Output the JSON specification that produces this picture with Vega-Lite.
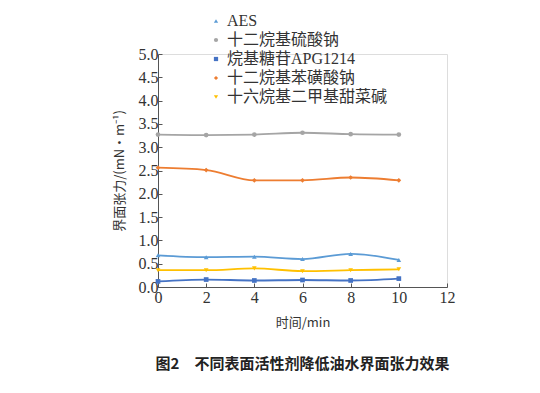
{
  "$schema": "https://vega.github.io/schema/vega-lite/v6.json",
  "width": 289,
  "height": 233,
  "autosize": {"type": "none"},
  "padding": {"left": 158, "top": 54, "right": 93, "bottom": 106},
  "background": "white",
  "title": {
    "text": "图2　不同表面活性剂降低油水界面张力效果",
    "orient": "bottom",
    "anchor": "middle",
    "offset": 28,
    "font": "Noto Sans CJK SC",
    "fontSize": 15,
    "fontWeight": "bold",
    "color": "#222222"
  },
  "data": {
    "values": [
      {"t": 0, "s": "AES", "v": 0.68},
      {"t": 2, "s": "AES", "v": 0.64},
      {"t": 4, "s": "AES", "v": 0.65},
      {"t": 6, "s": "AES", "v": 0.60},
      {"t": 8, "s": "AES", "v": 0.71},
      {"t": 10, "s": "AES", "v": 0.58},
      {"t": 0, "s": "十二烷基硫酸钠", "v": 3.27},
      {"t": 2, "s": "十二烷基硫酸钠", "v": 3.26},
      {"t": 4, "s": "十二烷基硫酸钠", "v": 3.27},
      {"t": 6, "s": "十二烷基硫酸钠", "v": 3.31},
      {"t": 8, "s": "十二烷基硫酸钠", "v": 3.28},
      {"t": 10, "s": "十二烷基硫酸钠", "v": 3.27},
      {"t": 0, "s": "烷基糖苷APG1214", "v": 0.12},
      {"t": 2, "s": "烷基糖苷APG1214", "v": 0.16},
      {"t": 4, "s": "烷基糖苷APG1214", "v": 0.14},
      {"t": 6, "s": "烷基糖苷APG1214", "v": 0.15},
      {"t": 8, "s": "烷基糖苷APG1214", "v": 0.14},
      {"t": 10, "s": "烷基糖苷APG1214", "v": 0.18},
      {"t": 0, "s": "十二烷基苯磺酸钠", "v": 2.56},
      {"t": 2, "s": "十二烷基苯磺酸钠", "v": 2.51},
      {"t": 4, "s": "十二烷基苯磺酸钠", "v": 2.29},
      {"t": 6, "s": "十二烷基苯磺酸钠", "v": 2.29},
      {"t": 8, "s": "十二烷基苯磺酸钠", "v": 2.35},
      {"t": 10, "s": "十二烷基苯磺酸钠", "v": 2.29},
      {"t": 0, "s": "十六烷基二甲基甜菜碱", "v": 0.36},
      {"t": 2, "s": "十六烷基二甲基甜菜碱", "v": 0.36},
      {"t": 4, "s": "十六烷基二甲基甜菜碱", "v": 0.40},
      {"t": 6, "s": "十六烷基二甲基甜菜碱", "v": 0.34},
      {"t": 8, "s": "十六烷基二甲基甜菜碱", "v": 0.36},
      {"t": 10, "s": "十六烷基二甲基甜菜碱", "v": 0.38}
    ]
  },
  "encoding": {
    "x": {
      "field": "t", "type": "quantitative",
      "scale": {"domain": [0, 12], "nice": false, "zero": false},
      "axis": {
        "title": "时间/min", "values": [0, 2, 4, 6, 8, 10, 12], "grid": false,
        "titleFont": "Noto Sans CJK SC", "titleFontSize": 13, "titleFontWeight": "normal", "titleColor": "#333333", "titlePadding": 11,
        "labelFont": "Liberation Serif", "labelFontSize": 16, "labelColor": "#333333", "labelPadding": 6,
        "domainColor": "#555555", "tickColor": "#555555", "tickSize": -4, "labelFlush": false
      }
    },
    "y": {
      "field": "v", "type": "quantitative",
      "scale": {"domain": [0, 5], "nice": false},
      "axis": {
        "title": "界面张力/(mN·m⁻¹)", "values": [0, 0.5, 1, 1.5, 2, 2.5, 3, 3.5, 4, 4.5, 5], "format": ".1f", "grid": false,
        "titleFont": "Noto Sans CJK SC", "titleFontSize": 13, "titleFontWeight": "normal", "titleColor": "#333333", "titlePadding": 12,
        "labelFont": "Liberation Serif", "labelFontSize": 16, "labelColor": "#333333", "labelPadding": 4,
        "domainColor": "#555555", "tickColor": "#555555", "tickSize": -4, "labelFlush": false
      }
    },
    "color": {
      "field": "s", "type": "nominal",
      "scale": {
        "domain": ["AES", "十二烷基硫酸钠", "烷基糖苷APG1214", "十二烷基苯磺酸钠", "十六烷基二甲基甜菜碱"],
        "range": ["#5B9BD5", "#A5A5A5", "#4472C4", "#ED7D31", "#FFC000"]
      },
      "legend": {
        "title": null, "orient": "none", "legendX": 50, "legendY": -41,
        "labelFont": "Liberation Serif, Noto Sans CJK SC", "labelFontSize": 16, "labelColor": "#333333", "labelLimit": 300,
        "symbolSize": 18, "rowPadding": 3, "labelOffset": 3, "symbolStrokeWidth": 0
      }
    }
  },
  "layer": [
    {
      "mark": {"type": "line", "interpolate": "monotone", "strokeWidth": 1.8},
      "encoding": {"detail": {"field": "s"}}
    },
    {
      "mark": {"type": "point", "filled": true, "size": 22, "opacity": 1},
      "encoding": {
        "shape": {
          "field": "s", "type": "nominal",
          "scale": {
            "domain": ["AES", "十二烷基硫酸钠", "烷基糖苷APG1214", "十二烷基苯磺酸钠", "十六烷基二甲基甜菜碱"],
            "range": ["triangle-up", "circle", "square", "diamond", "triangle-down"]
          }
        }
      }
    }
  ]
}
